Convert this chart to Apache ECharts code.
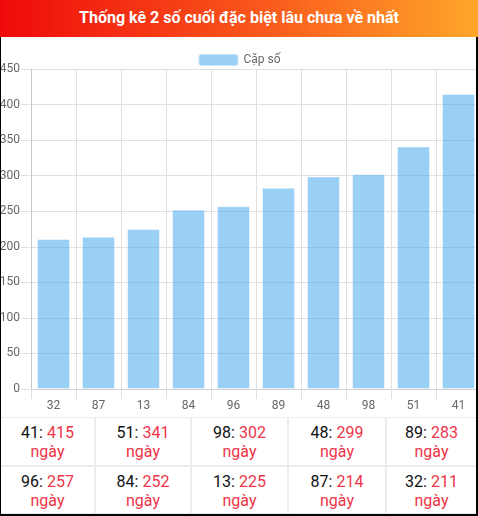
<!DOCTYPE html>
<html>
<head>
<meta charset="utf-8">
<script src="https://cdn.jsdelivr.net/npm/echarts@6/dist/echarts.min.js"></script>
<style>
  html, body { margin: 0; padding: 0; background: #fff; }
  #wrap { position: relative; width: 478px; height: 516px; overflow: hidden; font-family: Roboto, sans-serif; }
  #head {
    position: absolute; left: 0; top: 0; width: 478px; height: 37px;
    background: linear-gradient(to right, #ef0a0a, #f9591c 55%, #ffa62a);
    color: #fff; font: bold 16px Roboto, sans-serif; text-align: center; line-height: 36px;
  }
  #chart1 { position: absolute; left: 0; top: 37px; width: 478px; height: 380px; }
  #table {
    position: absolute; left: 1px; top: 417px; width: 475px; height: 97px;
    box-sizing: border-box; padding: 1px 0 1px 0; background: #ececec;
    display: grid; grid-template-columns: 93px 94px 95px 96px 1fr; grid-template-rows: 1fr 1fr; gap: 2px;
  }
  .cell { background: #fff; text-align: center; font-size: 16px; line-height: 19px; padding-top: 5px; color: #111; }
  .cell .v { color: #ee3448; }
  #frame {
    position: absolute; left: 0; top: 37px; width: 478px; height: 479px; box-sizing: border-box;
    border-left: 1px solid #000; border-right: 2px solid #000; border-bottom: 2px solid #000; pointer-events: none;
  }
</style>
</head>
<body>
<div id="wrap">
  <div id="head">Thống kê 2 số cuối đặc biệt lâu chưa về nhất</div>
  <div id="chart1"></div>
  <div id="table"></div>
  <div id="frame"></div>
</div>
<script>
// cặp số và số ngày chưa về
var pairs = ['32', '87', '13', '84', '96', '89', '48', '98', '51', '41'];
var days = [211, 214, 225, 252, 257, 283, 299, 302, 341, 415];
var yTicks = [0, 50, 100, 150, 200, 250, 300, 350, 400, 450];

// bảng bên dưới: xếp giảm dần
var rows = pairs.map(function (p, i) { return { p: p, d: days[i] }; })
  .sort(function (a, b) { return b.d - a.d; });
var html = '';
rows.forEach(function (r) {
  html += '<div class="cell">' + r.p + ': <span class="v">' + r.d + '</span><br><span class="v">ngày</span></div>';
});
document.getElementById('table').innerHTML = html;

var chartDom = document.getElementById('chart1');
var myChart = echarts.init(chartDom);
var option;

option = {
  animation: false,
  textStyle: { fontFamily: 'Roboto' },
  legend: {
    top: 11,
    left: 'center',
    itemWidth: 40,
    itemHeight: 12,
    itemGap: 10,
    data: ['Cặp số'],
    textStyle: { color: '#666', fontSize: 12 }
  },
  grid: { left: 31, top: 32, width: 450, height: 320, containLabel: false, outerBoundsMode: 'none' },
  xAxis: {
    type: 'category',
    data: pairs,
    axisLine: { lineStyle: { color: '#d0d0d0' } },
    axisTick: { show: true, length: 10, lineStyle: { color: '#e0e0e0' } },
    splitLine: { show: true, lineStyle: { color: '#e0e0e0' } },
    axisLabel: { color: '#666', fontSize: 12, margin: 11 }
  },
  yAxis: {
    type: 'value',
    min: yTicks[0],
    max: yTicks[yTicks.length - 1],
    interval: yTicks[1] - yTicks[0],
    axisLine: { show: true, lineStyle: { color: '#c8c8c8' } },
    axisTick: { show: true, length: 10, lineStyle: { color: '#e0e0e0' } },
    splitLine: { show: true, lineStyle: { color: '#e0e0e0' } },
    axisLabel: { color: '#666', fontSize: 12, margin: 11 }
  },
  series: [
    {
      name: 'Cặp số',
      type: 'bar',
      barWidth: 33,
      data: days,
      itemStyle: {
        color: 'rgba(54,162,235,0.5)',
        borderColor: 'rgba(255,255,255,0.45)',
        borderWidth: 1
      }
    }
  ]
};

option && myChart.setOption(option);
window.onresize = function() {
  myChart.resize();
};
</script>
</body>
</html>
